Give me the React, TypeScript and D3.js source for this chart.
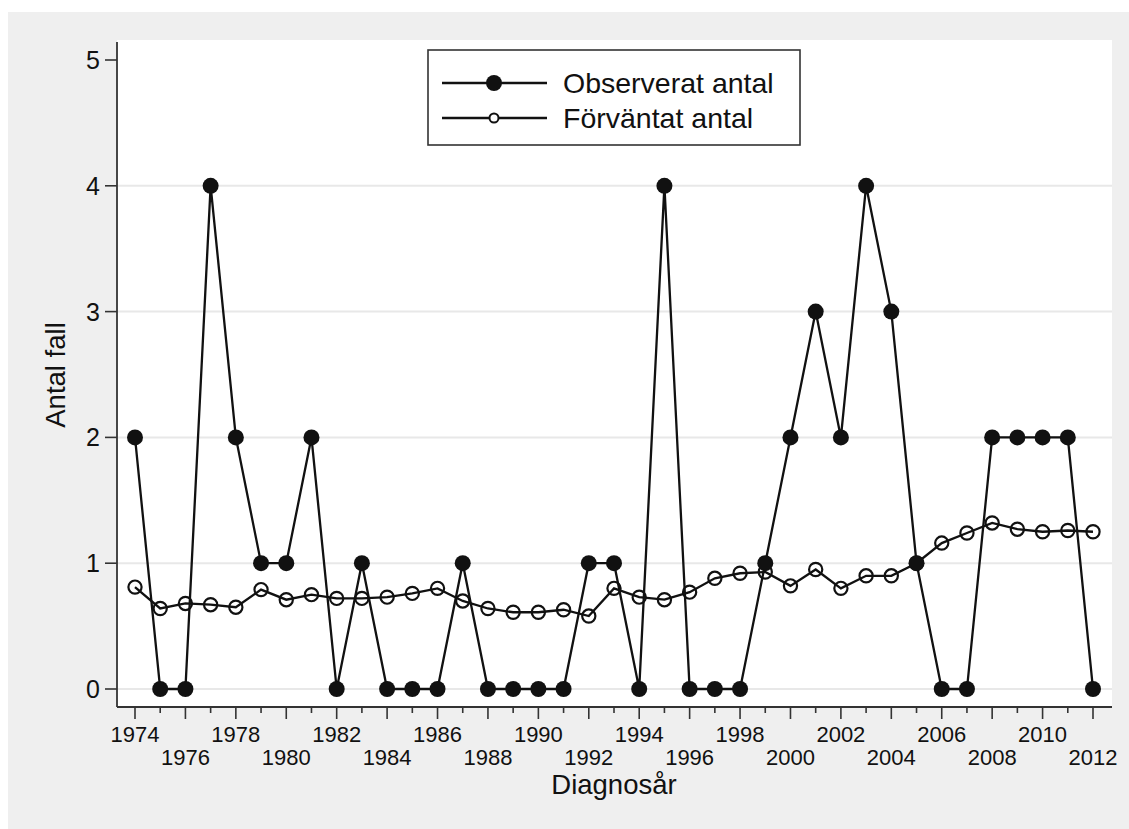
import React from 'react';
import * as d3 from 'd3';

// Diagnosis years and the two series
const years = [
  1974, 1975, 1976, 1977, 1978, 1979, 1980, 1981, 1982, 1983,
  1984, 1985, 1986, 1987, 1988, 1989, 1990, 1991, 1992, 1993,
  1994, 1995, 1996, 1997, 1998, 1999, 2000, 2001, 2002, 2003,
  2004, 2005, 2006, 2007, 2008, 2009, 2010, 2011, 2012,
];

const observed = [
  2, 0, 0, 4, 2, 1, 1, 2, 0, 1,
  0, 0, 0, 1, 0, 0, 0, 0, 1, 1,
  0, 4, 0, 0, 0, 1, 2, 3, 2, 4,
  3, 1, 0, 0, 2, 2, 2, 2, 0,
];

const expected = [
  0.81, 0.64, 0.68, 0.67, 0.65, 0.79, 0.71, 0.75, 0.72, 0.72,
  0.73, 0.76, 0.80, 0.70, 0.64, 0.61, 0.61, 0.63, 0.58, 0.80,
  0.73, 0.71, 0.77, 0.88, 0.92, 0.93, 0.82, 0.95, 0.80, 0.90,
  0.90, 1.00, 1.16, 1.24, 1.32, 1.27, 1.25, 1.26, 1.25,
];

const yTicks = [0, 1, 2, 3, 4, 5];
const gridValues = [0, 1, 2, 3, 4];
const labelYears = [
  1974, 1976, 1978, 1980, 1982, 1984, 1986, 1988, 1990, 1992,
  1994, 1996, 1998, 2000, 2002, 2004, 2006, 2008, 2010, 2012,
];

const seriesNames = ['Observerat antal', 'Förväntat antal'];

const FONT = '"Liberation Sans", Arial, Helvetica, sans-serif';
const INK = '#111';
const AXIS = '#333';

const App: React.FC = () => {
  const width = 1129;
  const height = 829;
  const plot = { left: 117, right: 1112, top: 40, bottom: 707 };

  const x = d3.scaleLinear().domain([1974, 2012]).range([135, 1093]);
  const y = d3.scaleLinear().domain([0, 5]).range([689, 60]);

  const obsPts: [number, number][] = years.map((yr, i) => [yr, observed[i]]);
  const expPts: [number, number][] = years.map((yr, i) => [yr, expected[i]]);

  const line = d3.line<[number, number]>()
    .x(d => x(d[0]))
    .y(d => y(d[1]));

  const legendRows = [83, 118];

  return (
    <svg
      width={width}
      height={height}
      style={{ position: 'absolute', left: 0, top: 0, fontFamily: FONT }}
    >
      <rect x={0} y={0} width={width} height={height} fill="#fff" />
      <rect x={8} y={12} width={width - 8} height={height - 12} fill="#efefef" />
      <rect
        x={plot.left}
        y={plot.top}
        width={plot.right - plot.left}
        height={plot.bottom - plot.top}
        fill="#fff"
      />

      {/* gridlines */}
      {gridValues.map(v => (
        <line
          key={'g' + v}
          x1={plot.left}
          x2={plot.right}
          y1={y(v)}
          y2={y(v)}
          stroke="#e8e8e8"
          strokeWidth={2}
        />
      ))}

      {/* expected series */}
      <path d={line(expPts) || ''} fill="none" stroke={INK} strokeWidth={2.3} />
      {expPts.map(d => (
        <circle
          key={'e' + d[0]}
          cx={x(d[0])}
          cy={y(d[1])}
          r={6.6}
          fill="none"
          stroke={INK}
          strokeWidth={2.2}
        />
      ))}

      {/* observed series */}
      <path d={line(obsPts) || ''} fill="none" stroke={INK} strokeWidth={2.3} />
      {obsPts.map(d => (
        <circle key={'o' + d[0]} cx={x(d[0])} cy={y(d[1])} r={8} fill={INK} />
      ))}

      {/* y axis */}
      <line x1={plot.left} x2={plot.left} y1={42} y2={plot.bottom} stroke={AXIS} strokeWidth={1.8} />
      {yTicks.map(v => (
        <g key={'y' + v}>
          <line x1={105} x2={plot.left} y1={y(v)} y2={y(v)} stroke={AXIS} strokeWidth={1.6} />
          <text x={100} y={y(v)} dy="0.36em" textAnchor="end" fontSize={25} fill={INK}>
            {v}
          </text>
        </g>
      ))}

      {/* x axis */}
      <line x1={plot.left} x2={plot.right} y1={plot.bottom} y2={plot.bottom} stroke={AXIS} strokeWidth={1.8} />
      {years.map(yr => {
        const major = labelYears.includes(yr);
        return (
          <line
            key={'xt' + yr}
            x1={x(yr)}
            x2={x(yr)}
            y1={plot.bottom}
            y2={plot.bottom + (major ? 12 : 6)}
            stroke={AXIS}
            strokeWidth={1.6}
          />
        );
      })}
      {labelYears.map((yr, i) => (
        <text
          key={'xl' + yr}
          x={x(yr)}
          y={i % 2 === 0 ? 742 : 765}
          textAnchor="middle"
          fontSize={22}
          fill={INK}
        >
          {yr}
        </text>
      ))}

      {/* axis titles */}
      <text x={614} y={794} textAnchor="middle" fontSize={27.5} fill={INK}>
        Diagnosår
      </text>
      <text
        transform="translate(65,375) rotate(-90)"
        textAnchor="middle"
        fontSize={27.5}
        fill={INK}
      >
        Antal fall
      </text>

      {/* legend */}
      <rect x={428} y={50} width={372} height={95} fill="#fff" stroke={AXIS} strokeWidth={1.6} />
      {seriesNames.map((name, i) => (
        <g key={name}>
          <line x1={442} x2={547} y1={legendRows[i]} y2={legendRows[i]} stroke={INK} strokeWidth={2.3} />
          {i === 0 ? (
            <circle cx={494} cy={legendRows[i]} r={8} fill={INK} />
          ) : (
            <circle cx={494} cy={legendRows[i]} r={4.5} fill="#fff" stroke={INK} strokeWidth={2} />
          )}
          <text x={563} y={legendRows[i]} dy="0.36em" fontSize={28.5} fill={INK}>
            {name}
          </text>
        </g>
      ))}
    </svg>
  );
};

export default App;
